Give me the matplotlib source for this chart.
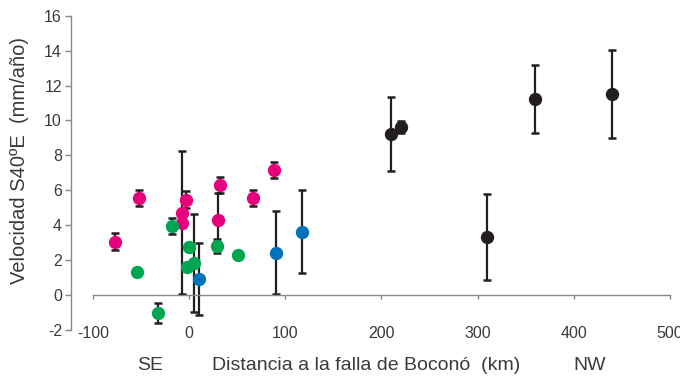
import matplotlib
matplotlib.use("Agg")
import matplotlib.pyplot as plt

plt.rcParams['font.family'] = ['Liberation Sans', 'DejaVu Sans']

# data (distance km, velocity mm/yr, error)
mag_x = [-77, -52, -3, -7, -7, 32, 30, 66, 88]
mag_y = [3.05, 5.55, 5.45, 4.7, 4.15, 6.3, 4.3, 5.55, 7.15]
mag_e = [0.48, 0.44, 0.48, 0.0, 4.12, 0.48, 1.55, 0.47, 0.47]

grn_x = [-54, -32, -18, 0, 5, -2, 29, 51]
grn_y = [1.3, -1.05, 3.97, 2.73, 1.85, 1.62, 2.81, 2.29]
grn_e = [0.0, 0.57, 0.46, 0.0, 2.8, 0.0, 0.42, 0.0]

blu_x = [10, 90, 117]
blu_y = [0.9, 2.43, 3.63]
blu_e = [2.05, 2.4, 2.39]

blk_x = [210, 220, 310, 360, 440]
blk_y = [9.23, 9.61, 3.34, 11.23, 11.52]
blk_e = [2.1, 0.35, 2.47, 1.93, 2.54]

x_ticks = [-100, 0, 100, 200, 300, 400, 500]
y_ticks = [-2, 0, 2, 4, 6, 8, 10, 12, 14, 16]

fig = plt.figure(figsize=(6.8, 3.77), dpi=100)
ax = fig.add_axes([71 / 680, 0.125, 0.985 - 71 / 680, 0.9584 - 0.125])

groups = [
    (mag_x, mag_y, mag_e, '#e5007d'),
    (grn_x, grn_y, grn_e, '#00a551'),
    (blu_x, blu_y, blu_e, '#0071bb'),
    (blk_x, blk_y, blk_e, '#231f20'),
]
bar_col = '#231f20'
for gx, gy, ge, col in groups:
    ax.errorbar(gx, gy, yerr=ge, fmt='none', ecolor=bar_col, elinewidth=1.6,
                capsize=2.6, capthick=1.8, zorder=2)
for gx, gy, ge, col in groups:
    ax.plot(gx, gy, 'o', color=col, markersize=9.6, markeredgewidth=0, zorder=3)

# y axis sits left of the -100 tick
ax.set_xlim(-100 - 22 / 0.962, 500)
ax.set_ylim(-2, 16)
ax.set_xticks(x_ticks)
ax.set_yticks(y_ticks)
ax.set_xticklabels([str(v) for v in x_ticks])
ax.set_yticklabels([str(v) for v in y_ticks])

for s in ['top', 'right']:
    ax.spines[s].set_visible(False)
ax.spines['bottom'].set_position(('data', 0))
ax.spines['bottom'].set_bounds(-100, 500)
ax.spines['bottom'].set_color('#888888')
ax.spines['left'].set_color('#888888')
ax.spines['bottom'].set_linewidth(1.0)
ax.spines['left'].set_linewidth(1.0)
ax.tick_params(axis='both', colors='#888888', labelcolor='#3a3a3a', labelsize=11.5,
               length=4, width=1.0)
ax.tick_params(axis='x', pad=19, length=3)
ax.tick_params(axis='y', pad=2.5)

txt_col = '#3a3a3a'
fig.text(20 / 680, 1 - 160 / 377, 'Velocidad S40ºE  (mm/año)', rotation=90,
         ha='center', va='center', fontsize=14.5, color=txt_col)
fig.text(150 / 680, 1 - 366 / 377, 'SE', ha='center', va='center', fontsize=14, color=txt_col)
fig.text(366 / 680, 1 - 366 / 377, 'Distancia a la falla de Boconó  (km)', ha='center',
         va='center', fontsize=14, color=txt_col)
fig.text(590 / 680, 1 - 366 / 377, 'NW', ha='center', va='center', fontsize=14, color=txt_col)

fig.savefig('out.png', dpi=100)
